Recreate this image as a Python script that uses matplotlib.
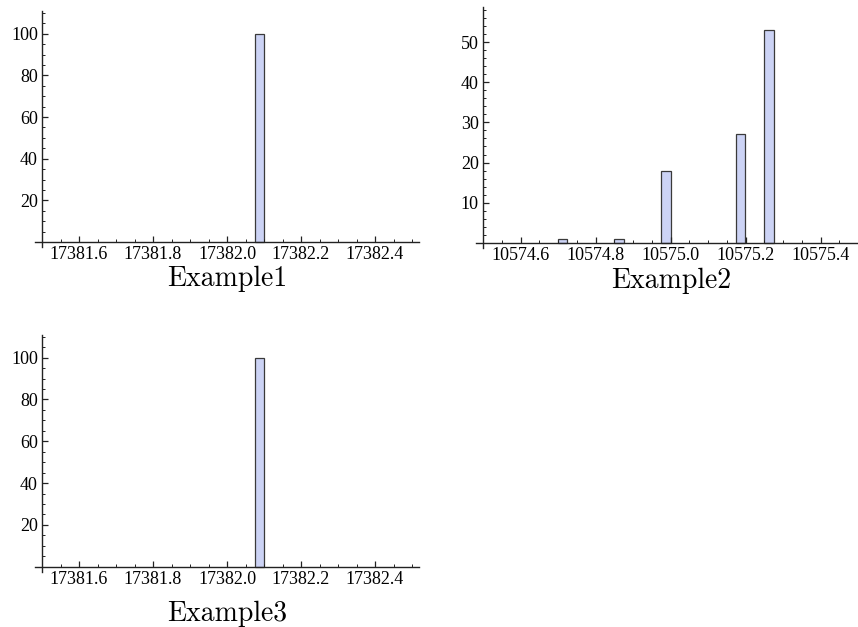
import matplotlib
matplotlib.use("Agg")
import matplotlib.pyplot as plt
from matplotlib.ticker import MultipleLocator, FixedLocator, FormatStrFormatter

# histogram data (bin left edges, counts), bin width 0.025
bin_width = 0.025

ex1_left = [17382.075]
ex1_counts = [100]

ex2_left = [10574.7, 10574.85, 10574.975, 10575.175, 10575.25]
ex2_counts = [1, 1, 18, 27, 53]

ex3_left = [17382.075]
ex3_counts = [100]

titles = ["Example1", "Example2", "Example3"]

W, H = 858, 627
fig = plt.figure(figsize=(W / 100, H / 100), dpi=100)


def px_axes(x0, x1, ytop, ybot):
    return fig.add_axes([x0 / W, 1 - ybot / H, (x1 - x0) / W, (ybot - ytop) / H])


def style(ax, xlim, x_origin, ylim, ymajor, yminor, xticks):
    ax.set_xlim(*xlim)
    ax.set_ylim(*ylim)
    for s in ["top", "right"]:
        ax.spines[s].set_visible(False)
    ax.spines["left"].set_position(("data", x_origin))
    ax.spines["bottom"].set_position(("data", 0))
    for s in ["left", "bottom"]:
        ax.spines[s].set_color("#222222")
        ax.spines[s].set_linewidth(1.0)
    ax.xaxis.set_major_locator(FixedLocator(xticks))
    ax.xaxis.set_minor_locator(MultipleLocator(0.05))
    ax.xaxis.set_major_formatter(FormatStrFormatter("%.1f"))
    ax.yaxis.set_major_locator(FixedLocator(ymajor))
    ax.yaxis.set_minor_locator(MultipleLocator(yminor))
    ax.tick_params(which="both", direction="in", color="#222222",
                   labelsize=13, pad=3)
    ax.tick_params(which="major", length=4, width=0.9)
    ax.tick_params(which="minor", length=2, width=0.7)
    for lab in ax.get_xticklabels() + ax.get_yticklabels():
        lab.set_fontfamily("Liberation Serif")
    ax.patch.set_alpha(0)


def draw(ax, left, counts):
    ax.bar(left, counts, width=bin_width, align="edge",
           color="#ccd3f5", edgecolor="#3a3a3a", linewidth=0.9, zorder=1)


# Example1
ax1 = px_axes(34.6, 419.4, 10.8, 247.2)
draw(ax1, ex1_left, ex1_counts)
style(ax1, (17381.48, 17382.52), 17381.5, (-2.5, 111),
      [20, 40, 60, 80, 100], 5, [17381.6, 17381.8, 17382.0, 17382.2, 17382.4])

# Example2
ax2 = px_axes(475.5, 858.0, 7.4, 247.5)
draw(ax2, ex2_left, ex2_counts)
style(ax2, (10574.48, 10575.5), 10574.5, (-1.2, 58.7),
      [10, 20, 30, 40, 50], 2, [10574.6, 10574.8, 10575.0, 10575.2, 10575.4])

# Example3
ax3 = px_axes(34.6, 419.4, 334.7, 571.9)
draw(ax3, ex3_left, ex3_counts)
style(ax3, (17381.48, 17382.52), 17381.5, (-2.5, 111),
      [20, 40, 60, 80, 100], 5, [17381.6, 17381.8, 17382.0, 17382.2, 17382.4])

# panel labels below each plot
for (cx, cy), t in zip([(227, 279), (671, 281), (227, 614)], titles):
    fig.text(cx / W, 1 - cy / H, t, ha="center", va="center",
             fontsize=20, fontfamily="cmr10")

fig.savefig("out.png", dpi=100)
